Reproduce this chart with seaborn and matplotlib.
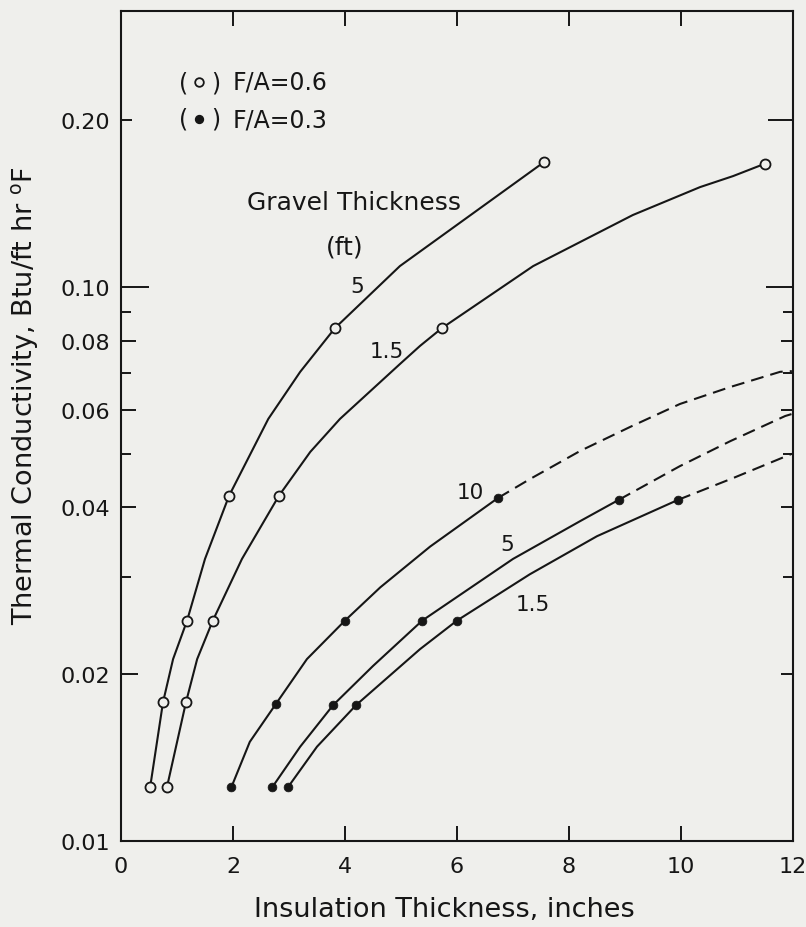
import matplotlib
matplotlib.use("Agg")
import matplotlib.pyplot as plt
from matplotlib.ticker import FixedLocator, FixedFormatter, NullFormatter, NullLocator
import seaborn as sns
import pandas as pd

# ---------------------------------------------------------------
# Data: thermal conductivity vs. insulation thickness
# ---------------------------------------------------------------
# F/A = 0.6 (open circles) -- measured points
open_5_x = [0.52, 0.75, 1.18, 1.93, 3.82, 7.55]
open_5_y = [0.0125, 0.0178, 0.0250, 0.0420, 0.0843, 0.168]
open_15_x = [0.82, 1.16, 1.64, 2.82, 5.73, 11.50]
open_15_y = [0.0125, 0.0178, 0.0250, 0.0420, 0.0843, 0.167]

# F/A = 0.6 -- faired curves through the points
open_5_curve_x = [0.52, 0.75, 0.93, 1.18, 1.50, 1.93, 2.63, 3.20, 3.82, 4.98, 7.55]
open_5_curve_y = [0.0125, 0.0178, 0.0213, 0.0250, 0.0323, 0.0420, 0.0578, 0.0703,
                  0.0843, 0.1091, 0.168]
open_15_curve_x = [0.82, 1.16, 1.36, 1.64, 2.16, 2.82, 3.38, 3.91, 4.98, 5.34, 5.73,
                   7.36, 9.14, 10.34, 10.93, 11.50]
open_15_curve_y = [0.0125, 0.0178, 0.0213, 0.0250, 0.0323, 0.0420, 0.0504, 0.0578,
                   0.0726, 0.0783, 0.0843, 0.1091, 0.1349, 0.1515, 0.1586, 0.167]

# F/A = 0.3 (filled circles) -- measured points
fill_10_x = [1.97, 2.77, 4.00, 6.73]
fill_10_y = [0.0125, 0.0177, 0.0250, 0.0416]
fill_5_x = [2.70, 3.79, 5.38, 8.89]
fill_5_y = [0.0125, 0.0176, 0.0250, 0.0413]
fill_15_x = [2.98, 4.20, 6.00, 9.95]
fill_15_y = [0.0125, 0.0176, 0.0250, 0.0413]

# F/A = 0.3 -- faired curves through the points
fill_10_curve_x = [1.97, 2.30, 2.77, 3.32, 4.00, 4.63, 5.52, 6.73]
fill_10_curve_y = [0.0125, 0.0151, 0.0177, 0.0213, 0.0250, 0.0287, 0.0340, 0.0416]
fill_5_curve_x = [2.70, 3.20, 3.79, 4.50, 5.38, 7.00, 8.20, 8.89]
fill_5_curve_y = [0.0125, 0.0148, 0.0176, 0.0207, 0.0250, 0.0323, 0.0378, 0.0413]
fill_15_curve_x = [2.98, 3.50, 4.20, 5.34, 6.00, 7.30, 8.50, 9.95]
fill_15_curve_y = [0.0125, 0.0148, 0.0176, 0.0222, 0.0250, 0.0303, 0.0355, 0.0413]

# F/A = 0.3 -- dashed extrapolations
ext_10_x = [6.73, 7.30, 8.20, 9.09, 9.98, 10.88, 11.77, 11.98]
ext_10_y = [0.0416, 0.0450, 0.0506, 0.0559, 0.0615, 0.0660, 0.0703, 0.0705]
ext_5_x = [8.89, 9.98, 10.88, 11.86, 11.98]
ext_5_y = [0.0413, 0.0475, 0.0527, 0.0585, 0.0590]
ext_15_x = [9.95, 10.93, 11.98]
ext_15_y = [0.0413, 0.0452, 0.0500]

# Axis ticks
x_ticks = [0, 2, 4, 6, 8, 10, 12]
x_tick_labels = ["0", "2", "4", "6", "8", "10", "12"]
y_major = [0.01, 0.02, 0.04, 0.06, 0.08, 0.10, 0.20]
y_major_labels = ["0.01", "0.02", "0.04", "0.06", "0.08", "0.10", "0.20"]
y_minor = [0.03, 0.05, 0.07, 0.09]

# ---------------------------------------------------------------
# Style
# ---------------------------------------------------------------
sns.set_style("ticks")
BG = "#efefec"
INK = "#161616"
plt.rcParams["font.family"] = ["DejaVu Sans"]
plt.rcParams["text.color"] = INK
plt.rcParams["axes.edgecolor"] = INK
plt.rcParams["xtick.color"] = INK
plt.rcParams["ytick.color"] = INK
plt.rcParams["mathtext.default"] = "regular"

W, H = 806, 928
fig = plt.figure(figsize=(W / 100, H / 100), dpi=100, facecolor=BG)


def fx(px):
    return px / W


def fy(py):
    return 1 - py / H


ax = fig.add_axes([fx(121), fy(842), 672 / W, 830 / H])
ax.set_facecolor(BG)
ax.set_yscale("log")

LW = 1.5
solid = dict(color=INK, lw=LW, sort=False, estimator=None, legend=False, zorder=2)

for cx, cy in [(open_5_curve_x, open_5_curve_y), (open_15_curve_x, open_15_curve_y),
               (fill_10_curve_x, fill_10_curve_y), (fill_5_curve_x, fill_5_curve_y),
               (fill_15_curve_x, fill_15_curve_y)]:
    sns.lineplot(data=pd.DataFrame({"x": cx, "y": cy}), x="x", y="y", ax=ax, **solid)

for cx, cy in [(ext_10_x, ext_10_y), (ext_5_x, ext_5_y), (ext_15_x, ext_15_y)]:
    sns.lineplot(data=pd.DataFrame({"x": cx, "y": cy}), x="x", y="y", ax=ax,
                 color=INK, lw=LW, sort=False, estimator=None, legend=False,
                 linestyle=(0, (6.2, 3.4)), zorder=2)

# open circles (F/A = 0.6)
for px_, py_ in [(open_5_x, open_5_y), (open_15_x, open_15_y)]:
    sns.scatterplot(x=px_, y=py_, ax=ax, s=52, marker="o", facecolor=BG,
                    edgecolor=INK, linewidth=1.3, zorder=3, legend=False)

# filled circles (F/A = 0.3)
for px_, py_ in [(fill_10_x, fill_10_y), (fill_5_x, fill_5_y), (fill_15_x, fill_15_y)]:
    sns.scatterplot(x=px_, y=py_, ax=ax, s=40, marker="o", color=INK,
                    edgecolor=INK, linewidth=0.5, zorder=3, legend=False)

ax.set_xlim(0, 12)
ax.set_ylim(0.01, 0.315)
ax.set_xlabel("")
ax.set_ylabel("")

ax.xaxis.set_major_locator(FixedLocator(x_ticks))
ax.xaxis.set_major_formatter(FixedFormatter(x_tick_labels))
ax.xaxis.set_minor_locator(NullLocator())
ax.yaxis.set_major_locator(FixedLocator(y_major))
ax.yaxis.set_major_formatter(FixedFormatter(y_major_labels))
ax.yaxis.set_minor_locator(FixedLocator(y_minor))
ax.yaxis.set_minor_formatter(NullFormatter())

ax.tick_params(axis="both", which="both", direction="in", top=True, right=True,
               width=1.4, color=INK, labelsize=16, labelcolor=INK)
ax.tick_params(axis="x", which="major", length=10.8, pad=11)
ax.tick_params(axis="y", which="major", length=10.8, pad=8)
ax.tick_params(axis="y", which="minor", length=7.5)

for sp in ax.spines.values():
    sp.set_visible(True)
    sp.set_linewidth(1.5)
    sp.set_color(INK)

# individual tick lengths (pixels) on the left and right edges
left_len = [0, 17, 15, 15, 15, 28, 11]
right_len = [0, 12, 12, 12, 12, 27, 25]
for t, l, r in zip(ax.yaxis.get_major_ticks(), left_len, right_len):
    t.tick1line.set_markersize(l * 0.72)
    t.tick2line.set_markersize(r * 0.72)

# ---------------------------------------------------------------
# Annotations
# ---------------------------------------------------------------
fig.text(fx(247), fy(203), "Gravel Thickness", ha="left", va="center", fontsize=18)
fig.text(fx(345), fy(247), "(ft)", ha="center", va="center", fontsize=18)

fig.text(fx(357), fy(287), "5", ha="center", va="center", fontsize=15.5)
fig.text(fx(387), fy(352), "1.5", ha="center", va="center", fontsize=15.5)
fig.text(fx(470), fy(493), "10", ha="center", va="center", fontsize=15.5)
fig.text(fx(507), fy(545), "5", ha="center", va="center", fontsize=15.5)
fig.text(fx(533), fy(605), "1.5", ha="center", va="center", fontsize=15.5)

# key
for yy, face, txt, ms in [(83, BG, "F/A=0.6", 6.2), (120, INK, "F/A=0.3", 5.4)]:
    fig.text(fx(184), fy(yy), "(", ha="center", va="center", fontsize=17)
    fig.text(fx(216), fy(yy), ")", ha="center", va="center", fontsize=17)
    ax.plot([fx(199)], [fy(yy)], transform=fig.transFigure, marker="o",
            markersize=ms, markerfacecolor=face, markeredgecolor=INK,
            markeredgewidth=1.3, linestyle="none", clip_on=False)
    fig.text(fx(233), fy(yy), txt, ha="left", va="center", fontsize=17)

fig.text(fx(444), fy(910), "Insulation Thickness, inches", ha="center", va="center",
         fontsize=19.5)
fig.text(fx(25), fy(396), r"Thermal Conductivity, Btu/ft hr $^{o}$F", ha="center",
         va="center", rotation=90, fontsize=19.5)

fig.savefig("out.png", dpi=100, facecolor=BG)
